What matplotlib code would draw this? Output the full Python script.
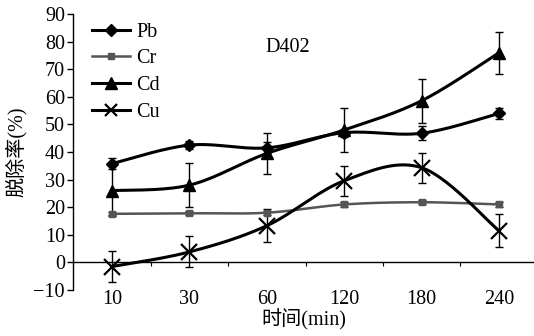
import matplotlib
matplotlib.use("Agg")
import matplotlib.pyplot as plt
import numpy as np

plt.rcParams["font.family"] = ["Liberation Serif", "Noto Sans CJK SC"]
plt.rcParams["font.size"] = 14.5

times = ["10", "30", "60", "120", "180", "240"]

pb = [35.8, 42.5, 41.5, 47.0, 46.8, 54.0]
pb_err = [2.0, 1.5, 2.0, 1.5, 2.5, 2.0]
cr = [17.6, 17.8, 18.0, 21.0, 21.8, 21.0]
cr_err = [0.8, 0.8, 0.8, 0.8, 0.8, 0.8]
cd = [26.0, 28.0, 39.5, 48.0, 58.6, 76.0]
cd_err = [9.0, 8.0, 7.5, 8.0, 8.0, 7.6]
cu = [-1.5, 3.8, 13.3, 29.6, 34.3, 11.4]
cu_err = [5.5, 5.6, 6.0, 5.5, 5.5, 6.0]

NSEG = 30


def smooth(y):
    """Excel-style smoothed line: cubic Bezier through the points."""
    x = np.arange(len(y), dtype=float)
    p = np.column_stack([x, np.asarray(y, float)])
    pts = [p[0]]
    t = np.linspace(0, 1, NSEG + 1)[1:, None]
    for i in range(len(p) - 1):
        p0 = p[max(i - 1, 0)]
        p1, p2 = p[i], p[i + 1]
        p3 = p[min(i + 2, len(p) - 1)]
        c1 = p1 + (p2 - p0) / 6
        c2 = p2 - (p3 - p1) / 6
        seg = ((1 - t) ** 3 * p1 + 3 * (1 - t) ** 2 * t * c1
               + 3 * (1 - t) * t ** 2 * c2 + t ** 3 * p2)
        pts.extend(seg)
    pts = np.array(pts)
    return pts[:, 0], pts[:, 1]


fig = plt.figure(figsize=(5.34, 3.36), dpi=100)
ax = fig.add_axes([0.1373, 0.1369, 0.8627, 0.8214])

series = [
    ("Pb", pb, pb_err, dict(color="black", lw=2.2, marker="D", ms=6.5)),
    ("Cr", cr, cr_err, dict(color="#555555", lw=1.8, marker="s", ms=5)),
    ("Cd", cd, cd_err, dict(color="black", lw=2.2, marker="^", ms=8.5)),
    ("Cu", cu, cu_err, dict(color="black", lw=2.2, marker="x", ms=11, mew=1.6)),
]

xs = np.arange(len(times))
marks = list(range(0, NSEG * len(times), NSEG))
handles = []
for name, vals, err, style in series:
    ax.errorbar(xs, vals, yerr=err, fmt="none", ecolor="black",
                elinewidth=1.0, capsize=3, capthick=1.0, zorder=2)
    sx, sy = smooth(vals)
    h, = ax.plot(sx, sy, markevery=marks, label=name, zorder=3, **style)
    handles.append(h)

ax.set_xlim(-0.5, 5.45)
ax.set_ylim(-10, 90)
ax.set_yticks(range(-10, 91, 10))

# category axis crosses at zero, labels stay at the bottom
ax.spines["top"].set_visible(False)
ax.spines["right"].set_visible(False)
ax.spines["bottom"].set_position(("data", 0))
ax.spines["bottom"].set_linewidth(1.0)
ax.spines["left"].set_linewidth(1.0)
ax.set_xticks(np.arange(0.5, len(times) - 0.5, 1.0))
ax.tick_params(axis="x", length=3, direction="out", labelbottom=False)
ax.tick_params(axis="y", length=4, direction="out", width=1, pad=2)

sec = ax.secondary_xaxis(0)
sec.set_xticks(xs)
sec.set_xticklabels(times)
sec.spines["bottom"].set_visible(False)
sec.tick_params(length=0, pad=0)

ax.set_xlabel("时间(min)", labelpad=0)
ax.xaxis.set_label_coords(0.5, -0.07)
ax.set_ylabel("脱除率(%)")
ax.yaxis.set_label_coords(-0.1, 0.5)

ax.text(1.98, 78, "D402", ha="left", va="center")

leg = ax.legend(handles=handles, loc="upper left", bbox_to_anchor=(0.04, 0.968),
                frameon=False, borderpad=0, borderaxespad=0, handlelength=1.9,
                handletextpad=0.3, labelspacing=0.37, numpoints=1)
leg.legend_handles[3].set_markersize(8)

fig.savefig("out.png", dpi=100)
